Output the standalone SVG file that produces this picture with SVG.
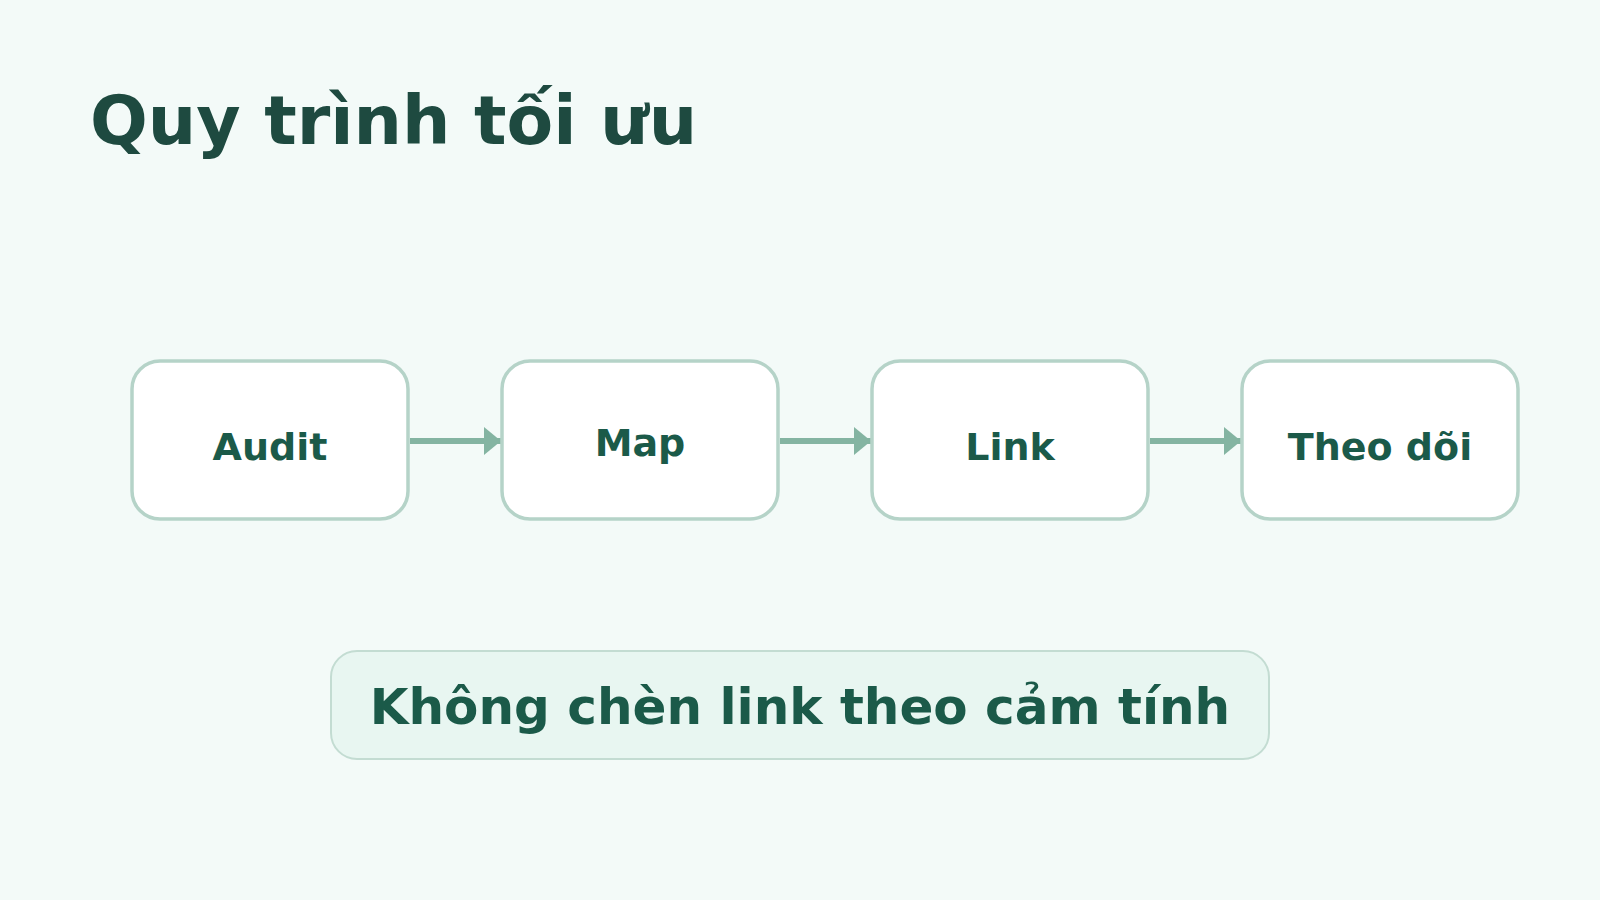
<svg xmlns="http://www.w3.org/2000/svg" width="1600" height="900" viewBox="0 0 1600 900">
  <defs>
    <style>
      .node rect { fill: #ffffff; stroke: #b5d3c8; stroke-width: 3.5; }
      .label { font-family: "DejaVu Sans", "Noto Sans", sans-serif; font-weight: bold; font-size: 38px; fill: #1b5a49; text-anchor: middle; }
      .title { font-family: "DejaVu Sans", "Noto Sans", sans-serif; font-weight: bold; font-size: 68px; fill: #1e4a40; }
      .edge { stroke: #84b4a2; stroke-width: 6; fill: none; }
      .note rect { fill: #e8f6f1; stroke: #c3dcd2; stroke-width: 2; }
      .note text { font-family: "DejaVu Sans", "Noto Sans", sans-serif; font-weight: bold; font-size: 50px; fill: #1b5a49; text-anchor: middle; }
    </style>
    <marker id="arrow" viewBox="0 0 17 28" refX="17" refY="14" markerWidth="17" markerHeight="28" markerUnits="userSpaceOnUse" orient="auto">
      <path d="M0,0 L17,14 L0,28 Z" fill="#84b4a2"/>
    </marker>
  </defs>
  <rect x="0" y="0" width="1600" height="900" fill="#f3faf8"/>
  <text class="title" x="90" y="144">Quy trình tối ưu</text>

  <g id="connectors">
    <line class="edge" x1="410" y1="441" x2="501" y2="441" marker-end="url(#arrow)"/>
    <line class="edge" x1="780" y1="441" x2="871" y2="441" marker-end="url(#arrow)"/>
    <line class="edge" x1="1150" y1="441" x2="1241" y2="441" marker-end="url(#arrow)"/>
  </g>

  <g id="node-audit" class="node">
    <rect x="132" y="361" width="276" height="158" rx="28"/>
    <text class="label" x="270" y="460">Audit</text>
  </g>
  <g id="node-map" class="node">
    <rect x="502" y="361" width="276" height="158" rx="28"/>
    <text class="label" x="640" y="456">Map</text>
  </g>
  <g id="node-link" class="node">
    <rect x="872" y="361" width="276" height="158" rx="28"/>
    <text class="label" x="1010" y="460">Link</text>
  </g>
  <g id="node-theodoi" class="node">
    <rect x="1242" y="361" width="276" height="158" rx="28"/>
    <text class="label" x="1380" y="460">Theo dõi</text>
  </g>

  <g id="note" class="note">
    <rect x="331" y="651" width="938" height="108" rx="26"/>
    <text x="800" y="724">Không chèn link theo cảm tính</text>
  </g>
</svg>
